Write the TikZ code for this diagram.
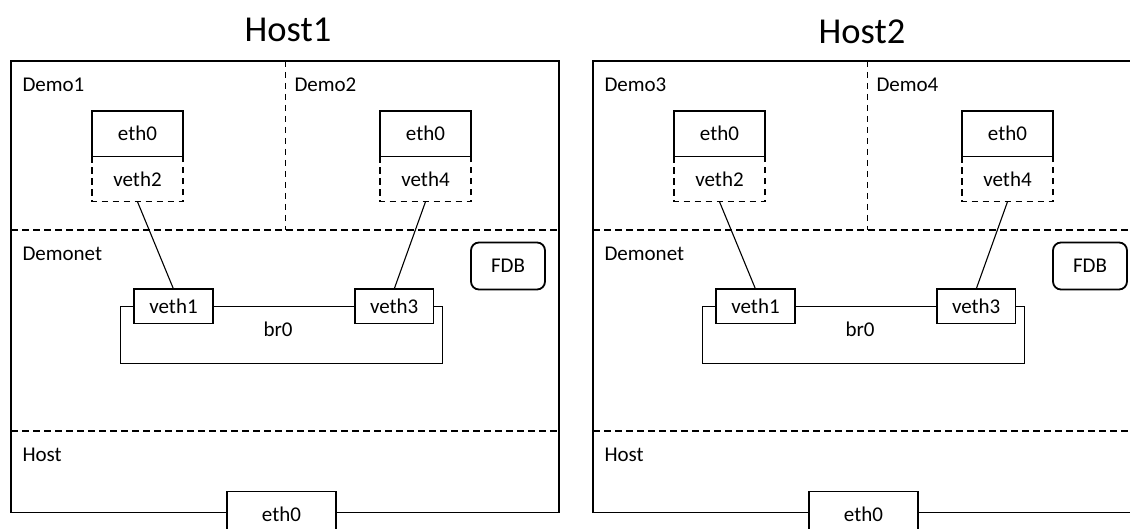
\documentclass[tikz,border=0pt]{standalone}
\usepackage{fontspec}
\setmainfont{Carlito}

\tikzset{
  every node/.style={inner sep=0pt, outer sep=0pt},
  txt/.style={font=\fontsize{21}{25}\selectfont},
  hosttitle/.style={font=\fontsize{36.5}{40}\selectfont, anchor=base},
  zonelabel/.style={txt, anchor=base west},
  hostframe/.style={draw, line width=1.3pt},
  zoneline/.style={draw, line width=1.1pt, dash pattern=on 6.5pt off 4.5pt},
  ifbox/.style={txt, draw, fill=white, line width=1.2pt, minimum width=#1, minimum height=45.5pt},
  bridge/.style={draw, line width=1.2pt},
  fdbbox/.style={txt, draw, rounded corners=8pt, line width=1.8pt, minimum width=74pt, minimum height=47pt},
  link/.style={draw, line width=1.1pt},
}

% One host: frame, namespaces, bridge and interfaces
% #1 horizontal offset, #2 name prefix, #3/#4 namespace names
\newcommand\hostpanel[4]{%
\begin{scope}[xshift=#1pt, name prefix=#2-]
  \coordinate (tl) at (11,61);
  \coordinate (br) at (559,512.5);
  \draw[hostframe] (tl) rectangle (br);
  % namespace dividers
  \draw[zoneline] (11,230) -- (559,230);
  \draw[zoneline] (11,431) -- (559,431);
  \draw[zoneline] (285.5,61) -- (285.5,230);
  % zone labels
  \node[zonelabel] (lA) at (22.5,92) {#3};
  \node[zonelabel] (lB) at (294.5,92) {#4};
  \node[zonelabel] (lnet) at (22.5,261) {Demonet};
  \node[zonelabel] (lhost) at (22.5,461) {Host};
  % container interfaces
  \node[ifbox=91pt] (ethA) at (137.5,133.7) {eth0};
  \node[ifbox=91pt, draw=none, fill=none] (vethA) at (137.5,179) {veth2};
  \draw[zoneline] (vethA.north west) |- (vethA.south east) -- (vethA.north east);
  \node[ifbox=91pt] (ethB) at (425.5,133.7) {eth0};
  \node[ifbox=91pt, draw=none, fill=none] (vethB) at (425.5,179) {veth4};
  \draw[zoneline] (vethB.north west) |- (vethB.south east) -- (vethB.north east);
  % bridge with its ports
  \node[bridge, minimum width=321.8pt, minimum height=56.8pt] (bridge) at (281.6,334.8) {};
  \node[txt] (brlabel) at (278,329) {br0};
  \node[ifbox=79pt, minimum height=34.6pt] (v1) at (173.5,306.3) {veth1};
  \node[ifbox=78.5pt, minimum height=34.6pt] (v3) at (394.2,306.3) {veth3};
  \node[fdbbox] (fdb) at (508,266) {FDB};
  % veth pairs
  \draw[link] (vethA.south) -- (v1.north);
  \draw[link] (vethB.south) -- (v3.north);
  % physical interface
  \node[ifbox=109pt] (hosteth) at (281.5,514) {eth0};
\end{scope}}

\begin{document}
\begin{tikzpicture}[x=1pt,y=-1pt]
  \useasboundingbox (0,0) rectangle (1130,529);
  \clip (0,0) rectangle (1130,529);
  \node[hosttitle] (t1) at (288,42) {Host1};
  \node[hosttitle] (t2) at (862,44) {Host2};
  \hostpanel{0}{h1}{Demo1}{Demo2}
  \hostpanel{582}{h2}{Demo3}{Demo4}
\end{tikzpicture}
\end{document}
